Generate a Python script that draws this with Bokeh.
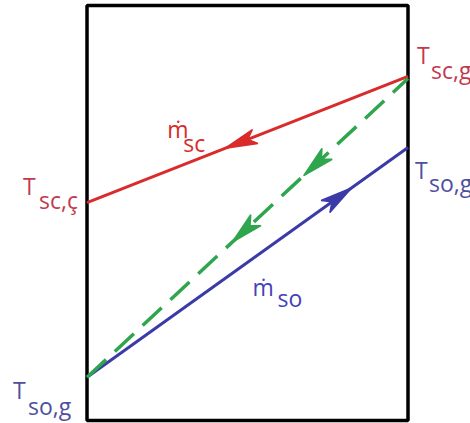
import math

from bokeh.plotting import figure
from bokeh.models import Range1d, ColumnDataSource
from bokeh.core.properties import value
from bokeh.embed import file_html
from bokeh.resources import INLINE

# Position along the exchanger: 0 = left end, 1 = right end
positions = [0.0, 1.0]

# Temperatures (arbitrary units, box spans 0..100) at the two ends
t_sc = [52.5, 82.9]      # hot stream, enters right, leaves left
t_so = [10.4, 65.8]      # cold stream, enters left, leaves right
t_mid = [10.4, 82.4]     # dashed profile

# Arrow tip locations, as a fraction of the way along each line
sc_arrows = [0.431]
so_arrows = [0.824]
mid_arrows = [0.453, 0.675]

RED = "#d92b2b"
BLUE = "#3b3ba8"
GREEN = "#2fa64e"
RED_TXT = "#c23a4e"
BLUE_TXT = "#4f4f9e"

W, H = 470, 423
x0, x1 = -0.2695, 1.1947
t0, t1 = -0.723, 101.2
PX_X = W / (x1 - x0)
PX_T = H / (t1 - t0)

p = figure(width=W, height=H, x_range=Range1d(x0, x1), y_range=Range1d(t0, t1),
           output_backend="svg", toolbar_location=None, min_border=0)
p.axis.visible = False
p.grid.visible = False
p.outline_line_color = None
p.background_fill_color = "white"
p.border_fill_color = "white"

# exchanger box
p.quad(left=[positions[0]], right=[positions[1]], bottom=[0], top=[100],
       fill_color=None, line_color="black", line_width=3.5)

p.line(positions, t_sc, line_color=RED, line_width=3)
p.line(positions, t_so, line_color=BLUE, line_width=3)
p.line(positions, t_mid, line_color=GREEN, line_width=3.5, line_dash="26 12")


def dart(ts, frac, backward, length=32, width=15, notch=8):
    """Dart-shaped arrow head lying on the line through (positions, ts)."""
    x = positions[0] + frac * (positions[1] - positions[0])
    t = ts[0] + frac * (ts[1] - ts[0])
    dx = (positions[1] - positions[0]) * PX_X
    dy = (ts[1] - ts[0]) * PX_T
    n = math.hypot(dx, dy)
    ux, uy = dx / n, dy / n
    if backward:
        ux, uy = -ux, -uy
    nx, ny = -uy, ux
    pts = [(0, 0),
           (-length * ux + width / 2 * nx, -length * uy + width / 2 * ny),
           (-(length - notch) * ux, -(length - notch) * uy),
           (-length * ux - width / 2 * nx, -length * uy - width / 2 * ny)]
    return [x + a / PX_X for a, _ in pts], [t + b / PX_T for _, b in pts]


for ts, fracs, back, col in [(t_sc, sc_arrows, True, RED),
                             (t_so, so_arrows, False, BLUE),
                             (t_mid, mid_arrows, True, GREEN)]:
    xs, ys = [], []
    for f in fracs:
        hx, hy = dart(ts, f, back)
        xs.append(hx)
        ys.append(hy)
    p.patches(xs, ys, fill_color=col, line_color=col, line_width=1.5)


def on_line(ts, frac):
    return (positions[0] + frac * (positions[1] - positions[0]),
            ts[0] + frac * (ts[1] - ts[0]))


# (anchor, main text, subscript, colour, main offset, subscript offset)
labels = [
    ((positions[0], t_sc[0]), "T", "sc,ç", RED_TXT, (-64, -17), (-48, -3)),
    ((positions[0], t_so[0]), "T", "so,g", BLUE_TXT, (-74, 13), (-59, 29)),
    ((positions[1], t_sc[1]), "T", "sc,g", RED_TXT, (9, -21), (23, -6)),
    ((positions[1], t_so[1]), "T", "so,g", BLUE_TXT, (7, 23), (21, 36)),
    (on_line(t_sc, 0.25), "ṁ", "sc", RED, (0, -42), (16, -28)),
    (on_line(t_so, 0.5), "ṁ", "so", "#4343b5", (5, 25), (30, 36)),
]

for (ax, at), main, sub, col, mo, so in labels:
    src = ColumnDataSource(dict(x=[ax, ax], y=[at, at], text=[main, sub],
                                xo=[mo[0], so[0]], yo=[mo[1], so[1]]))
    p.text(x="x", y="y", text="text", x_offset="xo", y_offset="yo", source=src,
           text_color=col, text_font=value("Open Sans"), text_font_size="23px",
           text_align="left", text_baseline="alphabetic")

open("out.html", "w").write(file_html(p, INLINE))
